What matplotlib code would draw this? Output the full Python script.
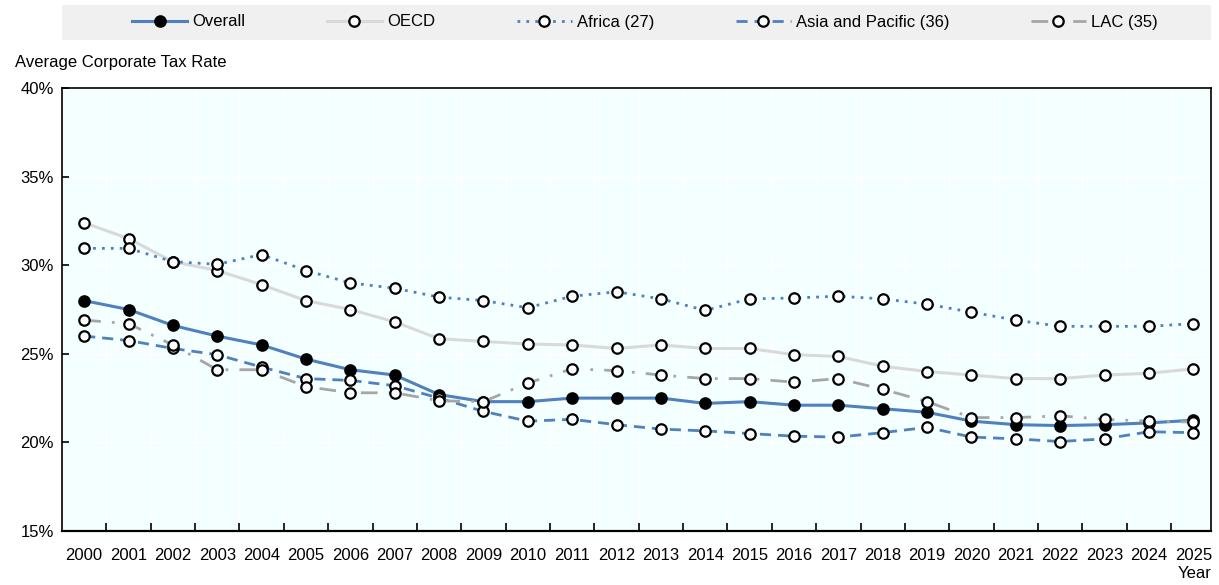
import matplotlib.pyplot as plt
from matplotlib.lines import Line2D
from matplotlib.patches import Rectangle
import numpy as np

plt.rcParams["font.family"] = ["Liberation Sans", "DejaVu Sans"]

years = list(range(2000, 2026))
overall = [28.0, 27.5, 26.6, 26.0, 25.5, 24.7, 24.1, 23.8, 22.7, 22.3, 22.3, 22.5, 22.5,
           22.5, 22.2, 22.3, 22.1, 22.1, 21.9, 21.7, 21.2, 21.0, 20.95, 21.0, 21.1, 21.25]
oecd = [32.4, 31.5, 30.2, 29.7, 28.9, 28.0, 27.5, 26.8, 25.85, 25.7, 25.55, 25.5, 25.3,
        25.5, 25.3, 25.3, 24.95, 24.85, 24.3, 24.0, 23.8, 23.6, 23.6, 23.8, 23.9, 24.15]
africa = [30.95, 30.95, 30.2, 30.05, 30.6, 29.7, 29.0, 28.7, 28.2, 28.0, 27.6, 28.25, 28.5,
          28.1, 27.45, 28.1, 28.15, 28.25, 28.1, 27.8, 27.35, 26.9, 26.55, 26.55, 26.55, 26.7]
asia_pacific = [26.0, 25.75, 25.3, 24.95, 24.25, 23.6, 23.5, 23.2, 22.5, 21.75, 21.2, 21.3, 21.0,
                20.75, 20.65, 20.5, 20.35, 20.3, 20.55, 20.85, 20.3, 20.2, 20.05, 20.2, 20.6, 20.55]
lac = [26.9, 26.7, 25.5, 24.1, 24.1, 23.15, 22.8, 22.8, 22.35, 22.3, 23.35, 24.15, 24.05,
       23.8, 23.6, 23.6, 23.4, 23.6, 23.0, 22.3, 21.4, 21.4, 21.5, 21.3, 21.2, 21.15]

blue = "#4e81bd"
series = [
    ("Overall", overall, dict(color=blue, ls="-", lw=2.2), "black"),
    ("OECD", oecd, dict(color="#d9d9d9", ls="-", lw=2.2), "white"),
    ("Africa (27)", africa, dict(color=blue, ls=(0, (1, 2.2)), lw=2.0), "white"),
    ("Asia and Pacific (36)", asia_pacific, dict(color=blue, ls=(0, (4, 2.5)), lw=2.0), "white"),
    ("LAC (35)", lac, dict(color="#a6a6a6", ls=(0, (6, 4, 1, 4)), lw=2.0), "white"),
]

fig = plt.figure(figsize=(12.19, 5.85), dpi=100)
ax = fig.add_axes([62 / 1219, 1 - 531 / 585, (1211 - 62) / 1219, (531 - 88) / 585])
ax.set_facecolor("#f4ffff")

x = np.arange(len(years))
for name, vals, style, face in series:
    ax.plot(x, vals, marker="o", ms=7.5, mfc=face, mec="black", mew=1.6, zorder=3, **style)

ax.set_xlim(-0.5, len(years) - 0.6)
ax.set_ylim(15, 40)
ax.set_yticks([15, 20, 25, 30, 35, 40])
ax.set_yticklabels([f"{v}%" for v in [15, 20, 25, 30, 35, 40]])
ax.set_xticks(np.arange(len(years) - 1) + 0.5)
ax.set_xticklabels([])
ax.set_xticks(x, minor=True)
ax.set_xticklabels([str(y) for y in years], minor=True)
ax.tick_params(axis="x", which="major", direction="in", length=6, width=1.2)
ax.tick_params(axis="x", which="minor", length=0, pad=12, labelsize=12)
ax.tick_params(axis="y", direction="in", length=5, width=1.2, pad=6, labelsize=12)
ax.grid(True, which="major", color="white", lw=1)
for sp in ax.spines.values():
    sp.set_color("black")
    sp.set_linewidth(1.2)
ax.spines["bottom"].set_linewidth(1.6)

fig.text(15 / 1219, 1 - 62 / 585, "Average Corporate Tax Rate", fontsize=12, va="center", ha="left")
fig.text(1212 / 1219, 1 - 573 / 585, "Year", fontsize=12, va="center", ha="right")

fig.patches.append(Rectangle((62 / 1219, 1 - 40 / 585), (1211 - 62) / 1219, 35 / 585,
                             transform=fig.transFigure, facecolor="#f0f0f0", edgecolor="none"))
handles = [Line2D([], [], marker="o", ms=7.5, mfc=face, mec="black", mew=1.6, **style)
           for _, _, style, face in series]
fig.legend(handles, [s[0] for s in series], loc="center", bbox_to_anchor=(0.529, 1 - 22 / 585),
           ncol=5, frameon=False, fontsize=12, handlelength=3.3, columnspacing=4.9, handletextpad=0.3)

fig.savefig("out.png", dpi=100)
